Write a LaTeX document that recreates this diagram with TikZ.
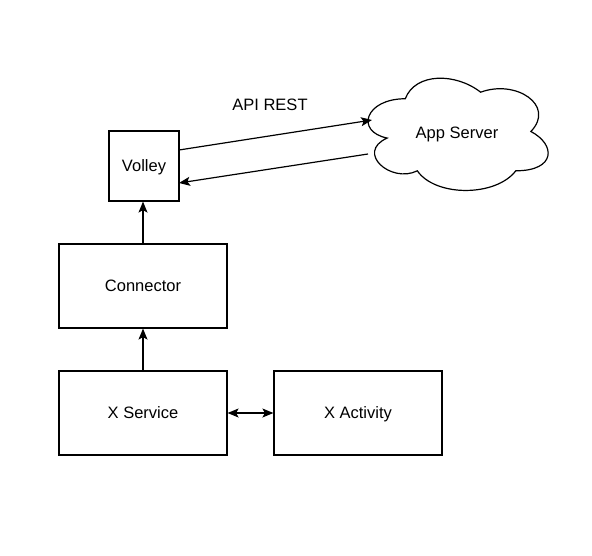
\documentclass[tikz,border=0pt]{standalone}
\usepackage{fontspec}
\setmainfont{Liberation Sans}
\usetikzlibrary{arrows.meta}
\begin{document}
\begin{tikzpicture}[x=1pt,y=-1pt,
  box/.style={draw,line width=1.2pt,inner sep=0pt,text depth=0pt,font=\fontsize{16.5}{19}\selectfont},
  lbl/.style={font=\fontsize{16.5}{19}\selectfont,inner sep=0pt,text depth=0pt},
  tip/.tip={Stealth[length=11pt,width=9pt,inset=2.5pt]},
  arr/.style={line width=1.2pt,-tip},
  darr/.style={line width=1.2pt,tip-tip}]
\useasboundingbox (0,0) rectangle (592,555);
\node[box,minimum width=70pt,minimum height=70pt] (volley) at (144,166) {Volley};
\node[box,minimum width=168pt,minimum height=84pt] (connector) at (143,286) {Connector};
\node[box,minimum width=168pt,minimum height=84pt] (xservice) at (143,413) {X Service};
\node[box,minimum width=168pt,minimum height=84pt] (xactivity) at (358,413) {X Activity};
% cloud (draw.io style), origin (355,66), w=201, h=131
\begin{scope}[shift={(355,66)},x=201pt,y=-131pt]
\draw[line width=1.2pt] (0.25,0.25)
  .. controls (0.05,0.25) and (0,0.5) .. (0.16,0.55)
  .. controls (0,0.66) and (0.18,0.9) .. (0.31,0.8)
  .. controls (0.4,1) and (0.7,1) .. (0.8,0.8)
  .. controls (1,0.8) and (1,0.6) .. (0.875,0.5)
  .. controls (1,0.3) and (0.8,0.1) .. (0.625,0.2)
  .. controls (0.5,0.05) and (0.3,0.05) .. (0.25,0.25) -- cycle;
\end{scope}
\node[lbl] (appserver) at (457,133) {App Server};
\node[lbl] (apirest) at (270,105) {API REST};
\coordinate (v1) at (179,150);
\coordinate (c1) at (372,120);
\coordinate (c2) at (368,154);
\coordinate (v2) at (179,183);
\draw[arr] (v1) -- (c1);
\draw[arr] (c2) -- (v2);
\draw[arr] (connector.north) -- (connector.north |- volley.south);
\draw[arr] (xservice.north) -- (connector.south);
\draw[darr] (xservice.east) -- (xactivity.west);
\end{tikzpicture}
\end{document}
